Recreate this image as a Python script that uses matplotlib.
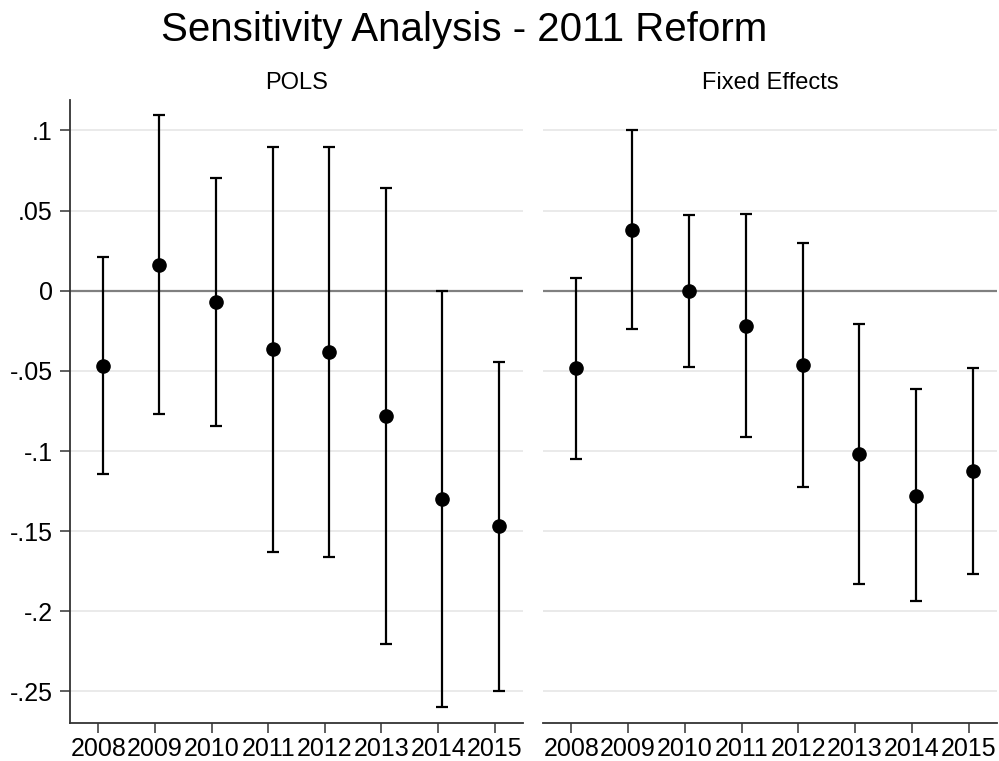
import matplotlib.pyplot as plt

plt.rcParams["font.family"] = ["Liberation Sans", "DejaVu Sans"]

years = [2008, 2009, 2010, 2011, 2012, 2013, 2014, 2015]

# POLS estimates with 95% confidence bounds
pols_coef = [-0.0468, 0.0160, -0.0072, -0.0366, -0.0384, -0.0782, -0.1301, -0.1468]
pols_lower = [-0.1143, -0.0771, -0.0844, -0.1628, -0.1660, -0.2204, -0.2597, -0.2495]
pols_upper = [0.0208, 0.1096, 0.0701, 0.0898, 0.0898, 0.0639, -0.0002, -0.0443]

# Fixed effects estimates with 95% confidence bounds
fe_coef = [-0.0484, 0.0380, 0.0000, -0.0220, -0.0464, -0.1019, -0.1279, -0.1127]
fe_lower = [-0.1050, -0.0237, -0.0476, -0.0915, -0.1223, -0.1828, -0.1938, -0.1767]
fe_upper = [0.0081, 0.1002, 0.0472, 0.0477, 0.0296, -0.0210, -0.0615, -0.0484]

y_ticks = [0.1, 0.05, 0.0, -0.05, -0.1, -0.15, -0.2, -0.25]
y_tick_labels = [".1", ".05", "0", "-.05", "-.1", "-.15", "-.2", "-.25"]

panels = [
    ("POLS", pols_coef, pols_lower, pols_upper),
    ("Fixed Effects", fe_coef, fe_lower, fe_upper),
]

AXIS_COLOR = "#333333"
OFFSET = 0.077

fig = plt.figure(figsize=(9.99, 7.61), dpi=100)
ax_left = fig.add_axes([0.0701, 0.0503, 0.4535, 0.8183])
ax_right = fig.add_axes([0.5435, 0.0503, 0.4545, 0.8183], sharey=ax_left)

for ax, (title, coef, lower, upper) in zip([ax_left, ax_right], panels):
    xs = [y + OFFSET for y in years]
    err_lo = [c - lo for c, lo in zip(coef, lower)]
    err_hi = [hi - c for c, hi in zip(coef, upper)]

    for t in y_ticks:
        ax.axhline(t, color="#e8e8e8", lw=1.3, zorder=0)
    ax.axhline(0, color="#808080", lw=1.6, zorder=1)

    ax.errorbar(xs, coef, yerr=[err_lo, err_hi], fmt="o", color="black",
                ms=9.5, elinewidth=1.6, capsize=4.5, capthick=1.6, zorder=3)

    ax.set_xlim(2007.5, 2015.5)
    ax.set_ylim(-0.2695, 0.119)
    ax.set_xticks(years)
    ax.set_xticklabels([str(y) for y in years])
    ax.set_title(title, fontsize=17, pad=8)

    for side in ["top", "right"]:
        ax.spines[side].set_visible(False)
    ax.spines["bottom"].set_color(AXIS_COLOR)
    ax.spines["bottom"].set_linewidth(1.3)
    ax.tick_params(axis="x", length=7.5, width=1.1, color=AXIS_COLOR,
                   labelsize=18, pad=3)

ax_left.set_yticks(y_ticks)
ax_left.set_yticklabels(y_tick_labels)
ax_left.spines["left"].set_color(AXIS_COLOR)
ax_left.spines["left"].set_linewidth(1.3)
ax_left.tick_params(axis="y", length=7.5, width=1.1, color=AXIS_COLOR,
                    labelsize=18, pad=5)

ax_right.spines["left"].set_visible(False)
ax_right.tick_params(axis="y", left=False, labelleft=False)

fig.text(0.465, 0.961, "Sensitivity Analysis - 2011 Reform",
         ha="center", va="center", fontsize=29)

fig.savefig("out.png", dpi=100)
